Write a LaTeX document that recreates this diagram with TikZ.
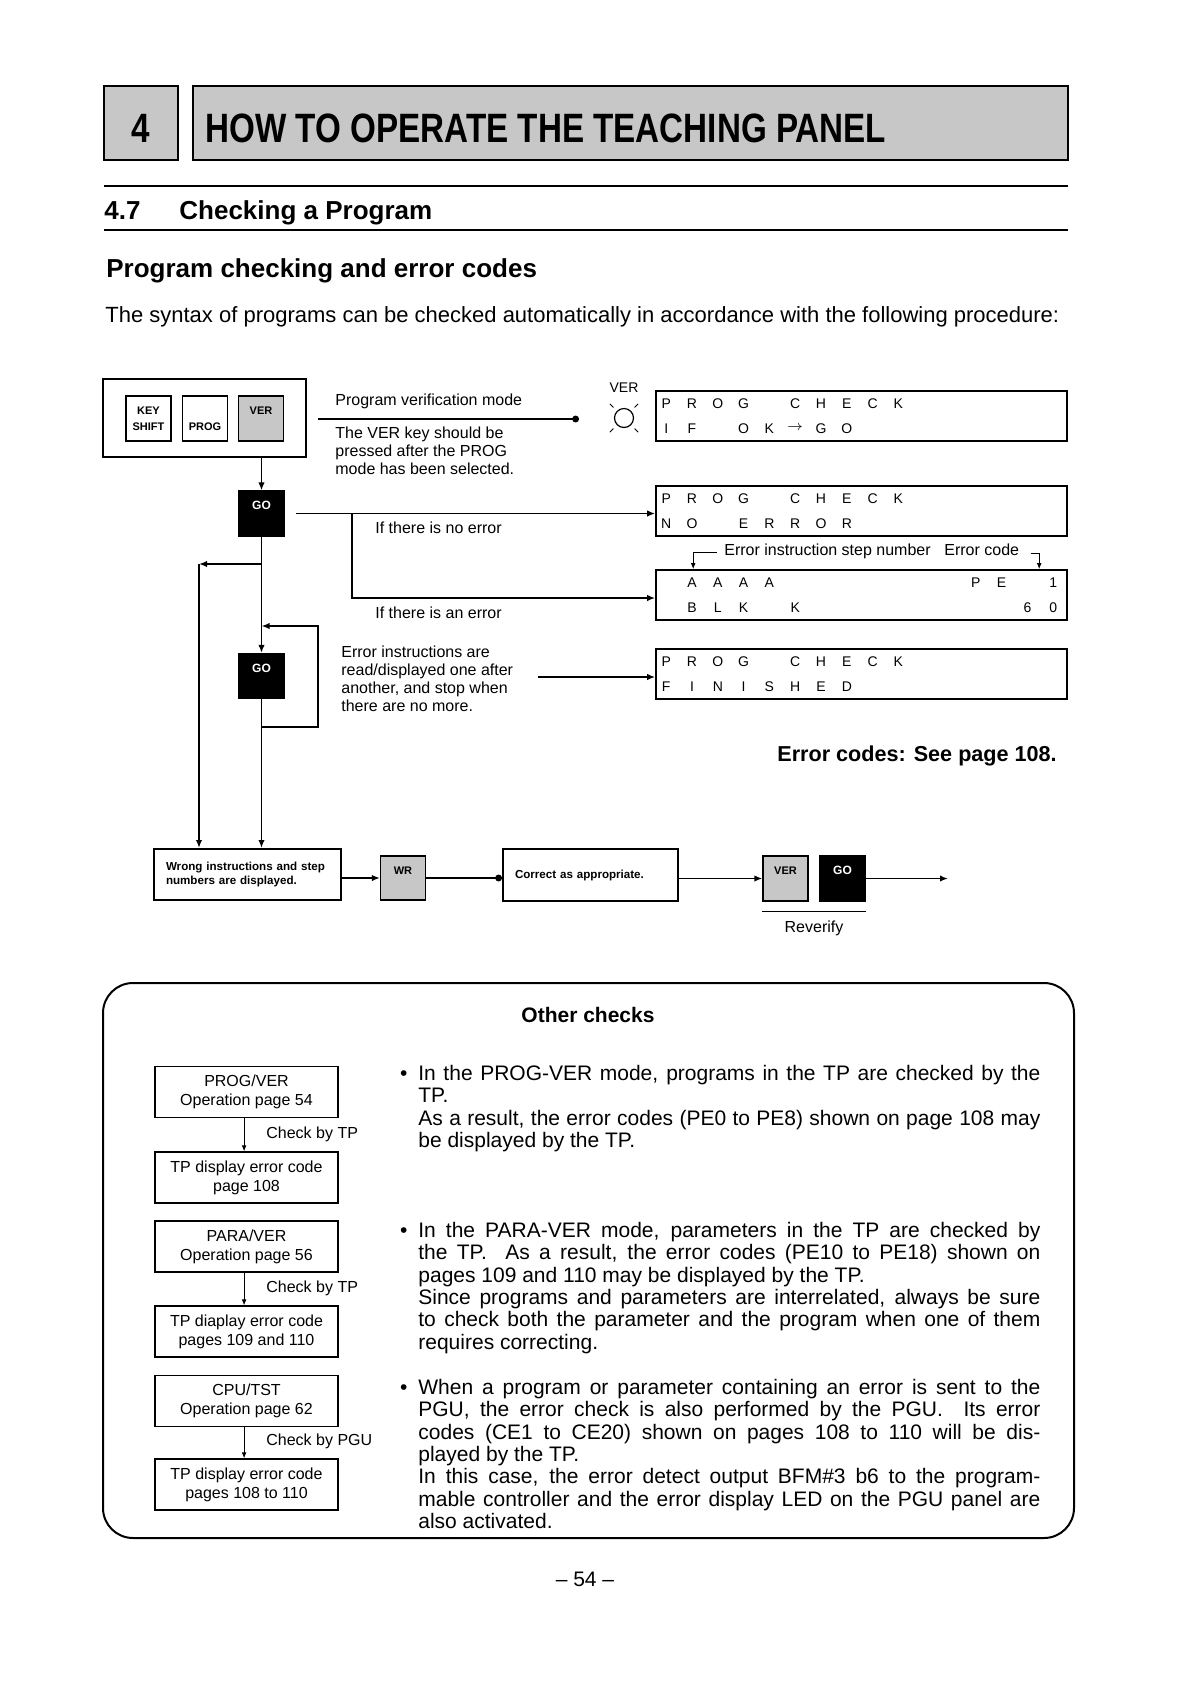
\documentclass[tikz,border=0pt]{standalone}
\usepackage{fontspec}
\setmainfont{Liberation Sans}
\usepackage{graphicx}
\usetikzlibrary{arrows.meta, calc}

\tikzset{
  flow/.style={line width=0.9pt, -{Latex[length=4pt,width=3.2pt]}},
  dotflow/.style={line width=0.9pt, -{Circle[length=3.4pt]}},
  thinflow/.style={line width=0.5pt, -{Latex[length=3pt,width=2.4pt]}},
  keybox/.style={draw, line width=0.6pt, minimum width=22.5pt, minimum height=22.5pt, inner sep=0pt, font=\fontsize{5.5}{8}\selectfont\bfseries},
  graykey/.style={keybox, fill=black!22},
  gokey/.style={keybox, fill=black, text=white, font=\fontsize{6}{7}\selectfont\bfseries},
  keytop/.style={text height=4pt, text depth=8pt},
  lcd/.style={draw, line width=0.8pt, minimum width=205.5pt, minimum height=25pt, inner sep=0pt},
  lcdch/.style={inner sep=0pt, font=\fontsize{7}{8}\selectfont},
  smalltxt/.style={inner sep=0pt, font=\fontsize{8}{9}\selectfont, align=left},
  msgbox/.style={draw, line width=1pt, inner sep=0pt, align=left, font=\fontsize{5.8}{7}\selectfont\bfseries},
  chkbox/.style={draw, line width=0.6pt, minimum width=91.5pt, minimum height=25.5pt, inner sep=0pt, align=center, font=\fontsize{8}{9.5}\selectfont},
  bodytxt/.style={inner sep=0pt, font=\fontsize{10.5}{11.17}\selectfont, align=left},
  headtxt/.style={inner sep=0pt, font=\fontsize{13}{15}\selectfont\bfseries}
}

\newcommand{\jline}[1]{\makebox[311pt][s]{#1}}

\begin{document}
\begin{tikzpicture}[x=0.5pt, y=-0.5pt]
\useasboundingbox (0,0) rectangle (1187,1683);

% chapter header
\node[draw, line width=1.4pt, fill=black!22, minimum width=37pt, minimum height=37pt, inner sep=0pt] (chapbox) at (141,123) {};
\node[anchor=base, inner sep=0pt, font=\fontsize{20.5}{22}\selectfont\bfseries] (chapnum) at (141,142) {\scalebox{0.81}[1]{4}};
\node[draw, line width=1.4pt, fill=black!22, minimum width=437.5pt, minimum height=37pt, inner sep=0pt] (titlebox) at (630.5,123) {};
\node[anchor=base west, inner sep=0pt, font=\fontsize{20.5}{22}\selectfont\bfseries] (titletxt) at (205,142) {\scalebox{0.81}[1]{HOW TO OPERATE THE TEACHING PANEL}};

\draw[line width=1.2pt] (104,186) -- (1068,186);
\draw[line width=1.2pt] (104,230) -- (1068,230);
\node[headtxt, anchor=base west] (secnum) at (104,219) {4.7};
\node[headtxt, anchor=base west] (sectitle) at (179,219) {Checking a Program};
\node[headtxt, anchor=base west] (subtitle) at (106,277) {Program checking and error codes};
\node[anchor=base west, inner sep=0pt, font=\fontsize{11}{13}\selectfont] (intro) at (105,322) {The syntax of programs can be checked automatically in accordance with the following procedure:};

% key sequence
\node[draw, line width=0.7pt, minimum width=101.5pt, minimum height=39pt, inner sep=0pt] (keypad) at (204.5,418) {};
\node[keybox, align=center] (kshift) at (148.5,418.5) {KEY\\SHIFT};
\node[keybox, text height=11.5pt, text depth=0pt] (kprog) at (205,418.5) {PROG};
\node[graykey, keytop] (kver) at (261,418.5) {VER};

\node[smalltxt, anchor=base west] (pvtxt) at (335,405) {Program verification mode};
\coordinate (pvs) at (318,419);
\coordinate (pve) at (579,419);
\draw[dotflow] (pvs) -- (pve);
\node[smalltxt, anchor=north west] (vertxt) at (335,426) {The VER key should be\\pressed after the PROG\\mode has been selected.};

\node[anchor=base, inner sep=0pt, font=\fontsize{7}{8}\selectfont] (lamplbl) at (624,392) {VER};
\node[circle, draw, line width=0.6pt, minimum size=9.5pt, inner sep=0pt] (lamp) at (624,418) {};
\foreach \a in {45,135,225,315}
  \draw[line width=0.5pt] (lamp.center) ++(\a:15) -- ++(\a:5);

% displays
\node[lcd] (lcd1) at (861.5,416) {};
\node[lcd] (lcd2) at (861.5,511) {};
\node[lcd] (lcd3) at (861.5,595) {};
\node[lcd] (lcd4) at (861.5,674) {};

\foreach \d in {lcd1,lcd2,lcd4}
  \foreach \c/\lch in {0/P,1/R,2/O,3/G,5/C,6/H,7/E,8/C,9/K}
    \node[lcdch] (\d a\c) at ($(\d.north west)+(11+25.8*\c,13.5)$) {\lch};
\foreach \c/\lch in {0/I,1/F,3/O,4/K,5/$\rightarrow$,6/G,7/O}
  \node[lcdch] (lcd1b\c) at ($(lcd1.north west)+(11+25.8*\c,38)$) {\lch};
\foreach \c/\lch in {0/N,1/O,3/E,4/R,5/R,6/O,7/R}
  \node[lcdch] (lcd2b\c) at ($(lcd2.north west)+(11+25.8*\c,38)$) {\lch};
\foreach \c/\lch in {1/A,2/A,3/A,4/A,12/P,13/E,15/1}
  \node[lcdch] (lcd3a\c) at ($(lcd3.north west)+(11+25.8*\c,13.5)$) {\lch};
\foreach \c/\lch in {1/B,2/L,3/K,5/K,14/6,15/0}
  \node[lcdch] (lcd3b\c) at ($(lcd3.north west)+(11+25.8*\c,38)$) {\lch};
\foreach \c/\lch in {0/F,1/I,2/N,3/I,4/S,5/H,6/E,7/D}
  \node[lcdch] (lcd4b\c) at ($(lcd4.north west)+(11+25.8*\c,38)$) {\lch};

% first GO
\node[gokey, keytop] (go1) at (261.5,513.5) {GO};
\draw[flow] (keypad.south -| go1.north) -- (go1.north);
\draw[flow, shorten <=5.5pt] (go1.east) -- (go1.east -| lcd2.west);
\coordinate (nob) at (352,513.5);
\draw[flow] (nob) |- ([yshift=-1.5pt]lcd3.west);
\node[smalltxt, anchor=base west] (noerr) at (375,533) {If there is no error};
\node[smalltxt, anchor=base west] (iserr) at (375,618) {If there is an error};

\node[smalltxt, anchor=base west] (esn) at (724,555) {Error instruction step number};
\node[smalltxt, anchor=base west] (ecd) at (944,555) {Error code};
\draw[thinflow] ([xshift=-3.5pt, yshift=-1pt]esn.west) -| ($(lcd3.north west)+(38,0)$);
\draw[thinflow] ([xshift=5.5pt, yshift=-2pt]ecd.east) -| ($(lcd3.north west)+(384,0)$);

% second GO and loop
\coordinate (brl) at (261.5,564);
\coordinate (brc) at (199,564);
\node[gokey, keytop] (go2) at (261.5,676) {GO};
\draw[flow] (go1.south) -- (go2.north);
\draw[flow] (brl) -- (brc);
\coordinate (lpb) at (261.5,727);
\coordinate (lpr) at (318,727);
\coordinate (lpt) at (261.5,626);
\draw[flow] (lpb) -- (lpr) |- (lpt);
\node[smalltxt, anchor=north west] (eitxt) at (341,645.5) {Error instructions are\\read/displayed one after\\another, and stop when\\there are no more.};
\coordinate (eia) at (538,677);
\draw[flow] (eia) -- (eia -| lcd4.west);

\node[anchor=base west, inner sep=0pt, font=\fontsize{10.8}{12}\selectfont\bfseries] (ecref) at (777,761) {Error codes: See page 108.};

% correction and reverify
\node[msgbox, minimum width=93.5pt, minimum height=25.5pt, text width=81.5pt] (wrong) at (247.5,874.5) {Wrong instructions and step\\numbers are displayed.};
\draw[flow] (go2.south) -- (go2.south |- wrong.north);
\draw[flow] (brc) -- (brc |- wrong.north);
\node[graykey, keytop, minimum height=22pt] (wr) at (403,878) {WR};
\draw[flow] (wr.west -| wrong.east) -- (wr.west);
\node[msgbox, minimum width=87.5pt, minimum height=26pt, text width=75.5pt] (correct) at (590.5,875) {Correct as appropriate.};
\draw[dotflow] (wr.east) -- (wr.east -| correct.west);
\node[graykey, keytop] (ver2) at (785.5,878.5) {VER};
\node[gokey, keytop] (go3) at (842.5,878.5) {GO};
\draw[flow] (ver2.west -| correct.east) -- (ver2.west);
\coordinate (rvend) at (948,878.5);
\draw[flow] (go3.east) -- (rvend);
\draw[line width=0.5pt] ([yshift=-5pt]ver2.south west) -- ([yshift=-5pt]go3.south east);
\node[smalltxt, anchor=base] (revtxt) at (814,932) {Reverify};

% other checks
\node[draw, line width=1pt, rounded corners=15pt, minimum width=485.5pt, minimum height=277.5pt, inner sep=0pt] (othbox) at (588.5,1260.5) {};
\node[anchor=base, inner sep=0pt, font=\fontsize{10.5}{12}\selectfont\bfseries] (othtitle) at (588,1022) {Other checks};

\node[chkbox] (cb1) at (246.5,1092) {PROG/VER\\Operation page 54};
\node[chkbox] (cb2) at (246.5,1177.5) {TP display error code\\page 108};
\node[chkbox] (cb3) at (246.5,1246.5) {PARA/VER\\Operation page 56};
\node[chkbox] (cb4) at (246.5,1331.5) {TP diaplay error code\\pages 109 and 110};
\node[chkbox] (cb5) at (246.5,1401) {CPU/TST\\Operation page 62};
\node[chkbox] (cb6) at (246.5,1484.5) {TP display error code\\pages 108 to 110};
\draw[thinflow] ([xshift=-1.2pt]cb1.south) -- ([xshift=-1.2pt]cb2.north);
\draw[thinflow] ([xshift=-1.2pt]cb3.south) -- ([xshift=-1.2pt]cb4.north);
\draw[thinflow] ([xshift=-1.2pt]cb5.south) -- ([xshift=-1.2pt]cb6.north);
\node[smalltxt, anchor=base west] (cby1) at (266,1138) {Check by TP};
\node[smalltxt, anchor=base west] (cby2) at (266,1292) {Check by TP};
\node[smalltxt, anchor=base west] (cby3) at (266,1445) {Check by PGU};

\node[bodytxt, anchor=north west] (chk1) at (418,1065) {\llap{\textbullet\hspace{5.5pt}}\jline{In the PROG-VER mode, programs in the TP are checked by the}\\TP.\\\jline{As a result, the error codes (PE0 to PE8) shown on page 108 may}\\be displayed by the TP.};
\node[bodytxt, anchor=north west] (chk2) at (418,1222) {\llap{\textbullet\hspace{5.5pt}}\jline{In the PARA-VER mode, parameters in the TP are checked by}\\\jline{the TP.\ \ As a result, the error codes (PE10 to PE18) shown on}\\pages 109 and 110 may be displayed by the TP.\\\jline{Since programs and parameters are interrelated, always be sure}\\\jline{to check both the parameter and the program when one of them}\\requires correcting.};
\node[bodytxt, anchor=north west] (chk3) at (418,1379) {\llap{\textbullet\hspace{5.5pt}}\jline{When a program or parameter containing an error is sent to the}\\\jline{PGU, the error check is also performed by the PGU.\ \ Its error}\\\jline{codes (CE1 to CE20) shown on pages 108 to 110 will be dis-}\\played by the TP.\\\jline{In this case, the error detect output BFM\#3 b6 to the program-}\\\jline{mable controller and the error display LED on the PGU panel are}\\also activated.};

\node[anchor=base, inner sep=0pt, font=\fontsize{10.5}{12}\selectfont] (pagenum) at (585,1586.5) {-- 54 --};
\end{tikzpicture}
\end{document}
